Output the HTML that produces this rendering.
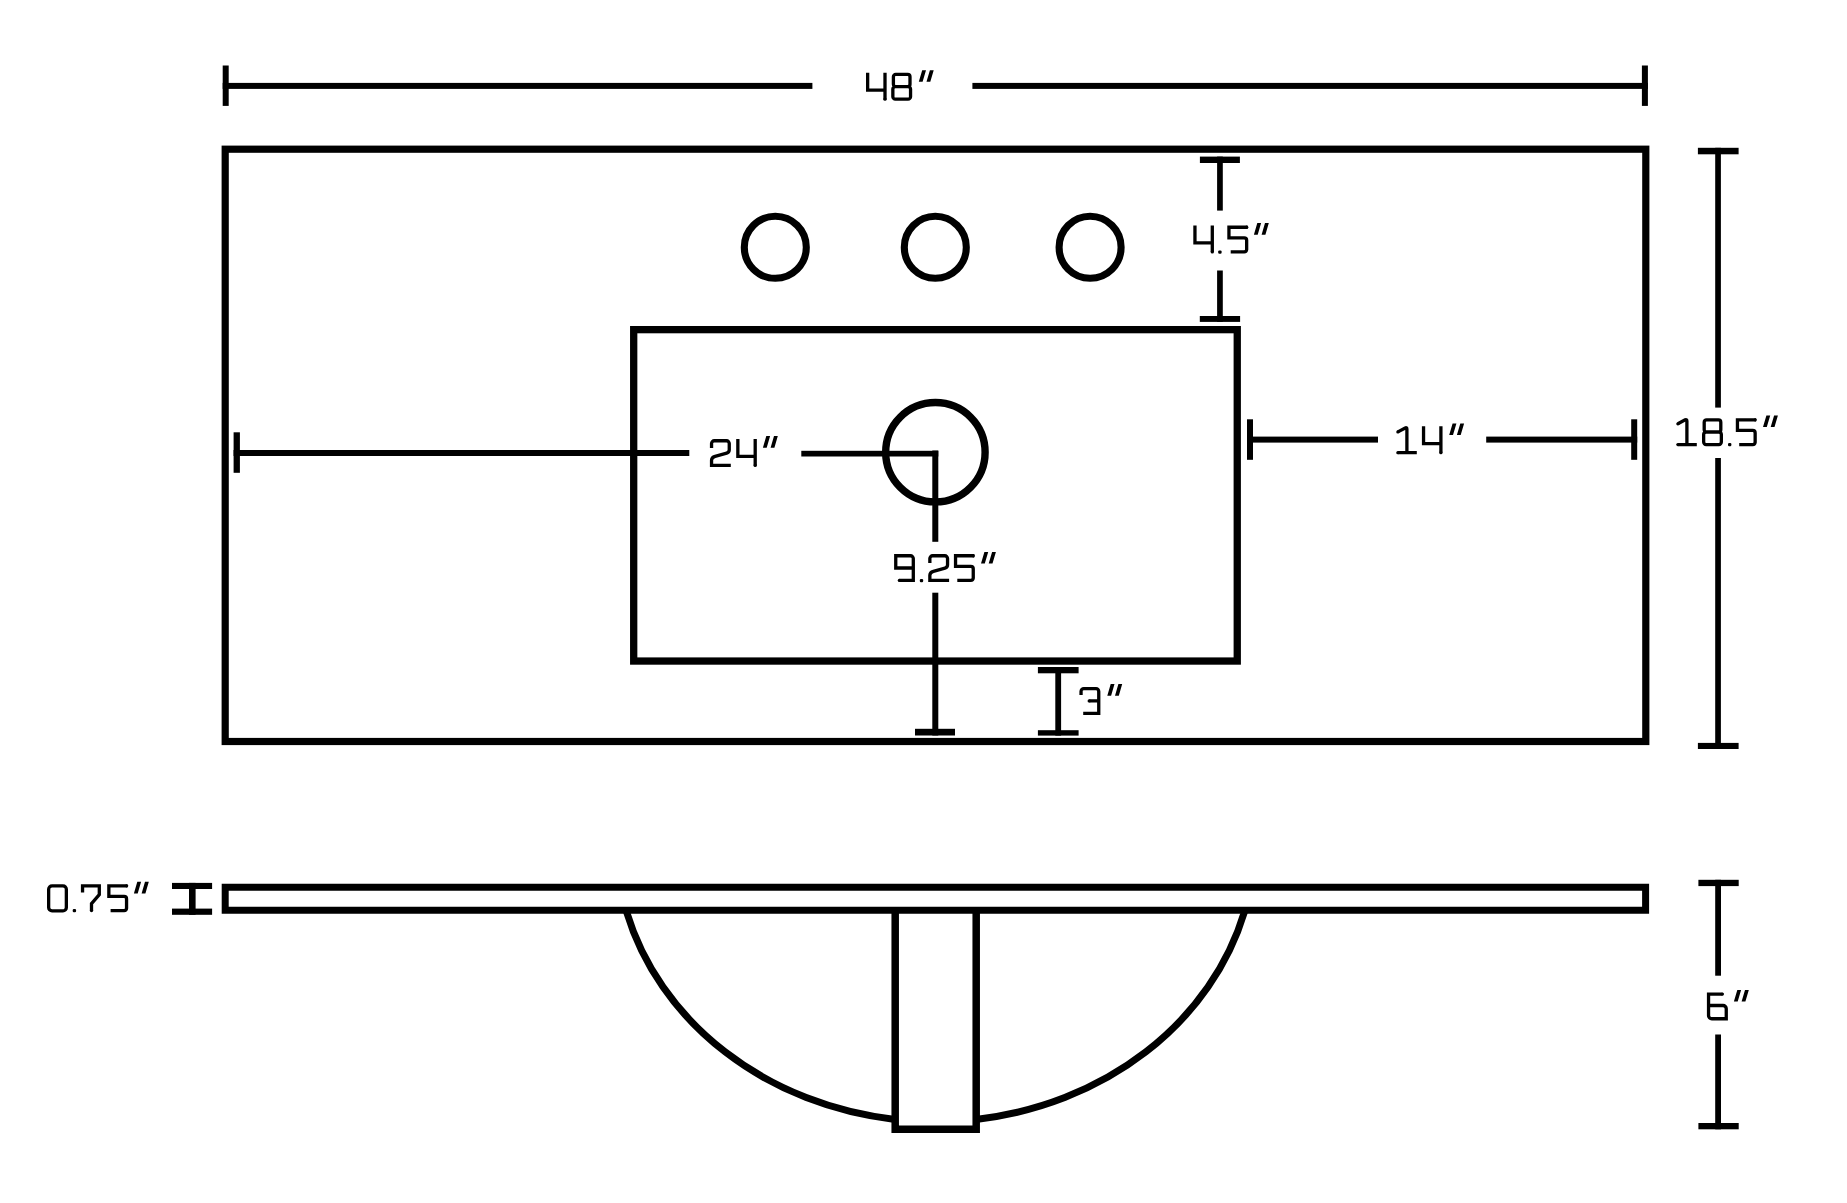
<!DOCTYPE html>
<html><head><meta charset="utf-8"><title>Vanity top diagram</title>
<style>
html,body{margin:0;padding:0;background:#fff;}
body{width:1847px;height:1203px;overflow:hidden;font-family:"Liberation Sans",sans-serif;}
svg{display:block;}
</style></head>
<body>
<svg width="1847" height="1203" viewBox="0 0 1847 1203" fill="#000">
<rect width="1847" height="1203" fill="#fff"/>
<rect x="222.70" y="65.50" width="6.00" height="40.40"/>
<rect x="1641.90" y="65.50" width="6.00" height="40.40"/>
<rect x="222.70" y="82.90" width="589.70" height="6.00"/>
<rect x="972.40" y="82.90" width="675.50" height="6.00"/>
<g transform="translate(866.00,72.80)"><path d="M1.65,0 V17.3 H19 M19,0 V26.35" fill="none" stroke="#000" stroke-width="3.3"/><circle cx="19" cy="26.35" r="1.65"/></g>
<g transform="translate(891.20,72.80)"><path d="M4.5,1.65 H16.5 A2.3,2.3 0 0 1 18.8,3.9499999999999997 V11.5 A2.3,2.3 0 0 1 16.5,13.8 H4.5 A2.3,2.3 0 0 1 2.2,11.5 V3.9499999999999997 A2.3,2.3 0 0 1 4.5,1.65 Z M4.15,13.8 H16.85 A2.5,2.5 0 0 1 19.35,16.3 V23.85 A2.5,2.5 0 0 1 16.85,26.35 H4.15 A2.5,2.5 0 0 1 1.65,23.85 V16.3 A2.5,2.5 0 0 1 4.15,13.8 Z" fill="none" stroke="#000" stroke-width="3.3"/></g>
<path d="M918.8,81.8 h3.8 l3.4,-11.6 h-3.8 Z M926.5,81.8 h3.8 l3.4,-11.6 h-3.8 Z"/>
<rect x="225.2" y="149.2" width="1420.6" height="592.3" fill="none" stroke="#000" stroke-width="7.2"/>
<circle cx="775.3" cy="247.3" r="31.0" fill="none" stroke="#000" stroke-width="7.1"/>
<circle cx="935.3" cy="247.3" r="31.0" fill="none" stroke="#000" stroke-width="7.1"/>
<circle cx="1090.1" cy="247.3" r="31.0" fill="none" stroke="#000" stroke-width="7.1"/>
<rect x="1199.90" y="156.60" width="40.00" height="6.40"/>
<rect x="1217.10" y="156.60" width="5.70" height="54.00"/>
<rect x="1217.10" y="270.50" width="5.70" height="51.40"/>
<rect x="1199.80" y="316.00" width="40.30" height="5.90"/>
<g transform="translate(1193.30,225.60)"><path d="M1.65,0 V17.3 H19 M19,0 V26.35" fill="none" stroke="#000" stroke-width="3.3"/><circle cx="19" cy="26.35" r="1.65"/></g>
<rect x="1218.20" y="250.40" width="3.4" height="3.3" rx="1.2"/>
<g transform="translate(1227.30,225.60)"><path d="M20.3,1.65 H1.65 V12.2 H16.9 A2.5,2.5 0 0 1 19.35,14.7 V24.1 A2.5,2.5 0 0 1 16.9,26.35 H3.4" fill="none" stroke="#000" stroke-width="3.3"/><circle cx="19.4" cy="1.65" r="1.65"/></g>
<path d="M1253.9,234.7 h3.8 l3.4,-11.6 h-3.8 Z M1261.6000000000001,234.7 h3.8 l3.4,-11.6 h-3.8 Z"/>
<rect x="633.7" y="329.65" width="603.55" height="331.4" fill="none" stroke="#000" stroke-width="7.3"/>
<circle cx="935.4" cy="452.2" r="49.7" fill="none" stroke="#000" stroke-width="7.4"/>
<rect x="233.60" y="432.30" width="6.30" height="40.50"/>
<rect x="233.60" y="450.00" width="455.70" height="6.00"/>
<rect x="801.30" y="450.80" width="137.00" height="5.70"/>
<rect x="932.30" y="450.50" width="6.00" height="91.30"/>
<rect x="932.30" y="592.70" width="6.00" height="142.80"/>
<rect x="915.00" y="728.80" width="40.00" height="6.70"/>
<g transform="translate(709.90,439.10)"><path d="M1.65,9 V4.4 A2.75,2.75 0 0 1 4.4,1.65 H16.6 A2.75,2.75 0 0 1 19.35,4.4 V11.0 Q19.35,13.3 16.8,14.0 L5.2,17.2 Q1.65,18.2 1.65,21.2 V26.35 H20.9" fill="none" stroke="#000" stroke-width="3.3"/></g>
<g transform="translate(736.20,439.10)"><path d="M1.65,0 V17.3 H19 M19,0 V26.35" fill="none" stroke="#000" stroke-width="3.3"/><circle cx="19" cy="26.35" r="1.65"/></g>
<path d="M762.9,447.70000000000005 h3.8 l3.4,-11.6 h-3.8 Z M770.6,447.70000000000005 h3.8 l3.4,-11.6 h-3.8 Z"/>
<g transform="translate(894.10,554.10)"><path d="M19.2,13.9 H1.65 V1.65 H16.4 A2.8,2.8 0 0 1 19.2,4.45 V26.35 H5.3" fill="none" stroke="#000" stroke-width="3.3"/><circle cx="5.3" cy="26.35" r="1.65"/></g>
<rect x="919.80" y="578.90" width="3.4" height="3.3" rx="1.2"/>
<g transform="translate(928.20,554.10)"><path d="M1.65,9 V4.4 A2.75,2.75 0 0 1 4.4,1.65 H16.6 A2.75,2.75 0 0 1 19.35,4.4 V11.0 Q19.35,13.3 16.8,14.0 L5.2,17.2 Q1.65,18.2 1.65,21.2 V26.35 H20.9" fill="none" stroke="#000" stroke-width="3.3"/></g>
<g transform="translate(953.90,554.10)"><path d="M20.3,1.65 H1.65 V12.2 H16.9 A2.5,2.5 0 0 1 19.35,14.7 V24.1 A2.5,2.5 0 0 1 16.9,26.35 H3.4" fill="none" stroke="#000" stroke-width="3.3"/><circle cx="19.4" cy="1.65" r="1.65"/></g>
<path d="M981,563.6 h3.8 l3.4,-11.6 h-3.8 Z M988.7,563.6 h3.8 l3.4,-11.6 h-3.8 Z"/>
<rect x="1247.00" y="419.30" width="6.00" height="40.50"/>
<rect x="1631.20" y="419.30" width="6.00" height="40.50"/>
<rect x="1247.00" y="436.60" width="131.00" height="6.00"/>
<rect x="1486.20" y="436.60" width="151.00" height="6.00"/>
<g transform="translate(1396.00,426.30)"><path d="M1.9,5.6 L9.2,1.65 Q10.9,0.9 10.9,3 V26.35 M1.9,26.35 H20.8" fill="none" stroke="#000" stroke-width="3.3"/><circle cx="1.9" cy="5.6" r="1.65"/><circle cx="1.9" cy="26.35" r="1.65"/></g>
<g transform="translate(1421.90,426.30)"><path d="M1.65,0 V17.3 H19 M19,0 V26.35" fill="none" stroke="#000" stroke-width="3.3"/><circle cx="19" cy="26.35" r="1.65"/></g>
<path d="M1449.2,435.0 h3.8 l3.4,-11.6 h-3.8 Z M1456.9,435.0 h3.8 l3.4,-11.6 h-3.8 Z"/>
<rect x="1697.90" y="147.80" width="40.70" height="6.50"/>
<rect x="1697.90" y="742.90" width="40.70" height="6.10"/>
<rect x="1715.20" y="147.80" width="5.70" height="259.80"/>
<rect x="1715.20" y="458.00" width="5.70" height="291.00"/>
<g transform="translate(1676.00,418.20)"><path d="M1.9,5.6 L9.2,1.65 Q10.9,0.9 10.9,3 V26.35 M1.9,26.35 H20.8" fill="none" stroke="#000" stroke-width="3.3"/><circle cx="1.9" cy="5.6" r="1.65"/><circle cx="1.9" cy="26.35" r="1.65"/></g>
<g transform="translate(1702.00,418.20)"><path d="M4.5,1.65 H16.5 A2.3,2.3 0 0 1 18.8,3.9499999999999997 V11.5 A2.3,2.3 0 0 1 16.5,13.8 H4.5 A2.3,2.3 0 0 1 2.2,11.5 V3.9499999999999997 A2.3,2.3 0 0 1 4.5,1.65 Z M4.15,13.8 H16.85 A2.5,2.5 0 0 1 19.35,16.3 V23.85 A2.5,2.5 0 0 1 16.85,26.35 H4.15 A2.5,2.5 0 0 1 1.65,23.85 V16.3 A2.5,2.5 0 0 1 4.15,13.8 Z" fill="none" stroke="#000" stroke-width="3.3"/></g>
<rect x="1728.00" y="443.00" width="3.4" height="3.3" rx="1.2"/>
<g transform="translate(1735.80,418.20)"><path d="M20.3,1.65 H1.65 V12.2 H16.9 A2.5,2.5 0 0 1 19.35,14.7 V24.1 A2.5,2.5 0 0 1 16.9,26.35 H3.4" fill="none" stroke="#000" stroke-width="3.3"/><circle cx="19.4" cy="1.65" r="1.65"/></g>
<path d="M1763,427.1 h3.8 l3.4,-11.6 h-3.8 Z M1770.7,427.1 h3.8 l3.4,-11.6 h-3.8 Z"/>
<rect x="1037.90" y="667.00" width="40.70" height="6.30"/>
<rect x="1055.30" y="667.00" width="5.80" height="68.60"/>
<rect x="1037.90" y="730.20" width="40.70" height="5.40"/>
<g transform="translate(1079.40,687.00)"><path d="M1.65,8 V4.4 A2.75,2.75 0 0 1 4.4,1.65 H16.6 A2.75,2.75 0 0 1 19.35,4.4 V26.35 H3.8 M9.8,13.9 H19.35" fill="none" stroke="#000" stroke-width="3.3"/><circle cx="9.8" cy="13.9" r="1.65"/></g>
<path d="M1107.3,695.7 h3.8 l3.4,-11.6 h-3.8 Z M1115.0,695.7 h3.8 l3.4,-11.6 h-3.8 Z"/>
<rect x="225.2" y="887.25" width="1420.4" height="23.0" fill="none" stroke="#000" stroke-width="7.0"/>
<path d="M626.60,912.0 A319.7,282.5 0 0 0 895.00,1119.42 M976.00,1119.42 A319.7,282.5 0 0 0 1244.40,912.0" fill="none" stroke="#000" stroke-width="7.0"/>
<path d="M895.2,911 V1129.35 H976.2 V911" fill="none" stroke="#000" stroke-width="7.5"/>
<rect x="172.00" y="882.90" width="40.10" height="6.10"/>
<rect x="189.00" y="882.90" width="6.60" height="31.90"/>
<rect x="172.00" y="908.60" width="40.10" height="6.20"/>
<g transform="translate(47.00,884.20)"><path d="M5.05,1.65 H15.950000000000001 A3.4,3.4 0 0 1 19.35,5.05 V23.200000000000003 A3.4,3.4 0 0 1 15.950000000000001,26.6 H5.05 A3.4,3.4 0 0 1 1.65,23.200000000000003 V5.05 A3.4,3.4 0 0 1 5.05,1.65 Z" fill="none" stroke="#000" stroke-width="3.3"/></g>
<rect x="72.70" y="909.00" width="3.4" height="3.3" rx="1.2"/>
<g transform="translate(80.90,884.20)"><path d="M1.65,8.2 V1.65 H18.4 V10.5 L10.6,19.5 V26.35" fill="none" stroke="#000" stroke-width="3.3"/><circle cx="10.6" cy="26.35" r="1.65"/></g>
<g transform="translate(107.20,884.20)"><path d="M20.3,1.65 H1.65 V12.2 H16.9 A2.5,2.5 0 0 1 19.35,14.7 V24.1 A2.5,2.5 0 0 1 16.9,26.35 H3.4" fill="none" stroke="#000" stroke-width="3.3"/><circle cx="19.4" cy="1.65" r="1.65"/></g>
<path d="M133.9,893.4 h3.8 l3.4,-11.6 h-3.8 Z M141.6,893.4 h3.8 l3.4,-11.6 h-3.8 Z"/>
<rect x="1698.40" y="879.80" width="40.30" height="6.30"/>
<rect x="1715.20" y="879.80" width="5.80" height="95.90"/>
<rect x="1715.20" y="1034.50" width="5.80" height="94.80"/>
<rect x="1698.40" y="1123.00" width="40.30" height="6.30"/>
<g transform="translate(1706.90,992.40)"><path d="M15.5,1.65 H1.65 V23.1 A3.25,3.25 0 0 0 4.9,26.35 H19.35 V16.3 A3.2,3.2 0 0 0 16.15,13.1 H1.65" fill="none" stroke="#000" stroke-width="3.3"/><circle cx="15.5" cy="1.65" r="1.65"/></g>
<path d="M1733.9,1001.6 h3.8 l3.4,-11.6 h-3.8 Z M1741.6000000000001,1001.6 h3.8 l3.4,-11.6 h-3.8 Z"/>
</svg>
</body></html>
